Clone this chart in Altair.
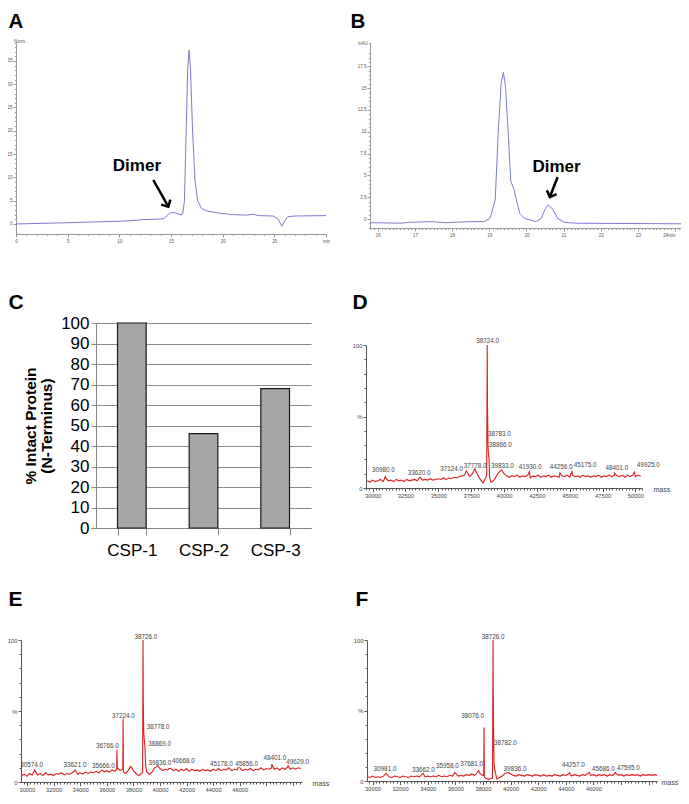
import altair as alt
import pandas as pd

FONT = "Liberation Sans"
BLUE = "#7a7ad2"
RED = "#de1f1f"
W, H = 673, 784

# ---------------- Panel A: chromatogram ----------------
A_TIME = [0, 5.07, 10.07, 11.84, 12.0, 14.26, 14.49, 14.75, 15.07, 15.39, 15.88, 16.13,
          16.3, 16.46, 16.62, 16.75, 16.88, 17.1, 17.33, 17.59, 17.97, 18.46, 19.75,
          21.04, 22.33, 22.97, 23.46, 24.91, 25.4, 25.72, 25.94, 26.27, 26.85, 30.0]
A_SIGNAL = [0.0, 0.28, 0.6, 0.8, 0.9, 1.1, 1.5, 2.1, 2.5, 2.4, 2.0, 2.1,
            4.9, 19.2, 33.5, 37.3, 33.5, 19.2, 9.2, 4.9, 3.3, 2.8, 2.3,
            2.0, 1.9, 2.1, 1.8, 1.7, 1.0, -0.5, 0.4, 1.5, 1.7, 1.8]
A_NOTE = ["Dimer"]
A_NOTE_T = [11.7]
A_NOTE_V = [11.4]
A_ARROW = [13.29, 9.44, 14.74, 3.71]

# ---------------- Panel B: chromatogram ----------------
B_TIME = [15.81, 16.63, 16.8, 17.43, 17.8, 18.49, 18.85, 19.02, 19.16, 19.24, 19.32,
          19.38, 19.44, 19.51, 19.58, 19.66, 19.73, 19.82, 19.95, 20.26, 20.4, 20.49,
          20.59, 20.71, 20.84, 21.02, 21.33, 24.16]
B_SIGNAL = [-0.42, -0.48, -0.38, -0.3, -0.42, -0.3, -0.3, 0.07, 2.18, 9.8, 15.6,
            16.8, 15.1, 9.8, 4.28, 3.5, 2.18, 0.65, 0.07, -0.3, 0.07, 1.03,
            1.64, 1.11, 0.07, -0.38, -0.48, -0.55]
B_NOTE = ["Dimer"]
B_NOTE_T = [20.81]
B_NOTE_V = [5.39]
B_ARROW = [20.84, 4.82, 20.63, 2.52]

# ---------------- Panel C: bar chart ----------------
C_CATS = ["CSP-1", "CSP-2", "CSP-3"]
C_VALS = [100, 46, 68]

# ---------------- Panels D, E, F: mass spectra ----------------
BASE_MASS = [29600, 29800, 30000, 30200, 30400, 30600, 30800, 31000, 31200, 31400,
             31600, 31800, 32000, 32200, 32400, 32600, 32800, 33000, 33200, 33400,
             33600, 33800, 34000, 34200, 34400, 34600, 34800, 35000, 35200, 35400,
             35600, 35800, 36000, 36200, 36400, 36600, 36800, 37000, 37200, 37400,
             37600, 37800, 38000, 38200, 38400, 38600, 38800, 39000, 39200, 39400,
             39600, 39800, 40000, 40200, 40400, 40600, 40800, 41000, 41200, 41400,
             41600, 41800, 42000, 42200, 42400, 42600, 42800, 43000, 43200, 43400,
             43600, 43800, 44000, 44200, 44400, 44600, 44800, 45000, 45200, 45400,
             45600, 45800, 46000, 46200, 46400, 46600, 46800, 47000, 47200, 47400,
             47600, 47800, 48000, 48200, 48400, 48600, 48800, 49000, 49200, 49400,
             49600, 49800, 50000, 50200, 50400, 50600, 50800, 51000, 51200, 51400]

D_BASE = [5, 4, 5.5, 4.5, 5, 6, 4.5, 7, 5, 5.5,
          4.5, 6, 5, 5.5, 4.5, 6, 5, 5.5, 6, 5,
          7.5, 5.5, 6, 5.5, 6.5, 5.5, 6, 6.5, 6, 7,
          6, 7, 6.5, 7.5, 7, 8, 8.5, 9, 11, 8,
          10, 13, 9, 6, 3.5, 7, 26, 4, 5, 8,
          11, 12.5, 10, 8.5, 7.5, 8.5, 8, 9, 7.5, 8.5,
          8, 9, 7, 8.5, 8, 9, 7.5, 8.5, 8, 9,
          7.5, 8.5, 8, 7.5, 8.5, 8, 9, 7.5, 9, 8,
          8.5, 7.5, 9, 8, 8.5, 7.5, 8.5, 8, 9, 7.5,
          8.5, 8, 9, 8, 9, 8.5, 8, 9, 7.5, 9,
          8, 9, 8, 9, 8, 8.5, 8, 8.5, 8, 8.5]
D_PEAK_M = [30980, 33620, 37124, 37778, 38680, 38724, 38745, 38783, 38866, 38900,
            39833, 41930, 44256, 45175, 48401, 49925]
D_PEAK_I = [8, 7.5, 12, 13.5, 9, 100, 58, 30, 20, 8,
            12.5, 11.5, 10.5, 12, 10.5, 11]
D_LAB = ["38724.0", "30980.0", "33620.0", "37124.0", "37778.0", "39833.0",
         "41930.0", "44256.0", "45175.0", "48401.0", "49925.0"]
D_LAB_M = [38762, 30817, 33533, 36022, 37795, 39873, 41981, 44340, 46167, 48579, 50984]
D_LAB_I = [103, 12.6, 10.5, 13, 15.4, 15.4, 14.5, 14.5, 16, 13.8, 15.9]
D_SIDE = ["38783.0", "38866.0"]
D_SIDE_M = [38785, 38861]
D_SIDE_I = [37.6, 30]

E_BASE = [4.5, 5.5, 4, 6, 5, 8, 5, 6, 4.5, 6.5,
          5, 5.5, 4.5, 6, 5.5, 6.5, 5, 6, 5.5, 6.5,
          8, 5.5, 6.5, 5.5, 7, 6, 7, 6.5, 7.5, 6.5,
          8, 7, 8, 7, 8.5, 7.5, 10, 8, 9, 6,
          8, 11, 8, 6, 4.5, 6, 32, 7, 5.5, 7,
          10, 11, 9.5, 8, 9, 8.5, 9.5, 8, 9, 7.5,
          9, 8, 9.5, 7.5, 9, 8, 8.5, 7.5, 9, 8,
          8.5, 7.5, 9, 8, 9.5, 8, 9, 8.5, 9.5, 8,
          9, 8.5, 10, 8, 9, 8.5, 9.5, 8, 9, 8.5,
          10, 8.5, 9.5, 9, 10, 9, 10, 8.5, 10, 9,
          10.5, 9, 10, 9, 10, 9.5, 10, 9.5, 10, 9.5]
E_PEAK_M = [30574, 33621, 35666, 36740, 36766, 36790, 37224, 37250, 38690, 38726,
            38745, 38778, 38869, 38920, 39836, 40668, 45178, 45856, 48401, 49629]
E_PEAK_I = [8.5, 8.5, 8.5, 9, 22.7, 9, 44.7, 7, 7, 100,
            55.5, 35.5, 24.6, 12, 11.5, 9.5, 10, 10, 12.5, 11.5]
E_LAB = ["38726.0", "37224.0", "36766.0", "30574.0", "33621.0", "35666.0",
         "39836.0", "40668.0", "45178.0", "45856.0", "48401.0", "49629.0"]
E_LAB_M = [38948, 37242, 36039, 30355, 33610, 35738, 40001, 41753, 44620, 46520, 48647, 50355]
E_LAB_I = [102.2, 46.7, 25.5, 11.8, 11.8, 11.1, 13.3, 14.9, 12.9, 12.9, 16.7, 14]
E_SIDE = ["38778.0", "38869.0"]
E_SIDE_M = [39001, 39121]
E_SIDE_I = [38.9, 26.7]

F_BASE = [3, 2.5, 3.5, 2.5, 3, 2.5, 3.5, 5, 3, 2.5,
          3.5, 3, 2.5, 3.5, 3, 2.5, 3.5, 3, 3.5, 3,
          5, 3, 3.5, 3, 3.5, 3, 4, 3, 3.5, 3,
          4, 3.5, 5.5, 3.5, 4, 3.5, 4.5, 4, 5, 4,
          6, 5, 4, 2, 1.2, 2, 12, 1.5, 2.5, 3.5,
          5.5, 6, 5, 4, 3.5, 4.5, 4, 3.5, 4.5, 4,
          3.5, 4.5, 4, 3.5, 4.5, 3.5, 4, 3.5, 4.5, 4,
          3.5, 4.5, 4, 5, 3.5, 4.5, 4, 3.5, 4.5, 4,
          5.5, 4, 4.5, 3.5, 4.5, 4, 4.5, 3.5, 4.5, 4,
          5.5, 4, 4.5, 3.5, 4.5, 4, 4.5, 4, 4.5, 3.5,
          4.5, 4, 4.5, 4, 4.5, 4, 4.5, 4, 4.5, 4]
F_PEAK_M = [30981, 33662, 35958, 37681, 38050, 38076, 38100, 38690, 38726, 38745,
            38782, 38850, 39836, 44257, 45686, 47595]
F_PEAK_I = [5.5, 5.5, 6, 7.5, 4, 38, 3, 2, 100, 60,
            22, 8, 6, 6, 6, 6]
F_LAB = ["38726.0", "38076.0", "30981.0", "33662.0", "35958.0", "37681.0",
         "39836.0", "44257.0", "45686.0", "47595.0"]
F_LAB_M = [38726, 37254, 30903, 33677, 35415, 37181, 40317, 44538, 46711, 48521]
F_LAB_I = [102.2, 46, 8.8, 8.1, 10.6, 12.2, 8.8, 11, 8.8, 9.5]
F_SIDE = ["38782.0"]
F_SIDE_M = [38798]
F_SIDE_I = [26.8]


def letter_axis_props(letter, lx, ly, size=21):
    return dict(title=letter, titleAngle=0, titleX=lx, titleY=ly, titleAlign="left",
                titleBaseline="alphabetic", titleFontSize=size, titleFontWeight="bold",
                titleColor="black", titleFont=FONT)


def chromatogram(times, signal, xdom, ydom, xrange, yrange, xaxis_y, yaxis_x,
                 xvals, xlabel_expr, xmajor_test, xlabel_align,
                 yvals, ylabel_expr, ymajor_test, ylabel_align, ylabel_base,
                 note, note_t, note_v, arrow, arrow_angle, letter, lx, ly):
    df = pd.DataFrame({"t": times, "v": signal})
    xs = alt.Scale(domain=xdom, range=xrange, nice=False, zero=False)
    ys = alt.Scale(domain=ydom, range=yrange, nice=False, zero=False)
    xax = alt.Axis(
        orient="bottom", offset=xaxis_y - H, title=None, values=xvals, labelExpr=xlabel_expr,
        tickSize={"condition": {"test": xmajor_test, "value": 3}, "value": 1.5},
        labelAlign=xlabel_align,
        labelFontSize=4.5, labelColor="#555", domainColor="#999", tickColor="#999",
        labelPadding=1, labelOverlap=False, grid=False, labelFlush=False, labelFont=FONT)
    yax = alt.Axis(
        orient="left", offset=-yaxis_x, values=yvals, labelExpr=ylabel_expr,
        tickSize={"condition": {"test": ymajor_test, "value": 3}, "value": 1.5},
        labelAlign=ylabel_align, labelBaseline=ylabel_base,
        labelFontSize=4.5, labelColor="#555", domainColor="#999", tickColor="#999",
        labelPadding=1, labelOverlap=False, grid=False, labelFlush=False, labelFont=FONT,
        **letter_axis_props(letter, lx - yaxis_x, ly, 20.5))
    line = alt.Chart(df).mark_line(color=BLUE, strokeWidth=1).encode(
        x=alt.X("t:Q", scale=xs, axis=xax), y=alt.Y("v:Q", scale=ys, axis=yax))
    ndf = pd.DataFrame({"t": note_t, "v": note_v, "txt": note})
    text = alt.Chart(ndf).mark_text(fontSize=17, fontWeight="bold", font=FONT,
                                    color="black", baseline="alphabetic").encode(
        x=alt.X("t:Q", scale=xs, axis=xax), y=alt.Y("v:Q", scale=ys, axis=yax), text="txt:N")
    adf = pd.DataFrame({"t": [arrow[0]], "v": [arrow[1]], "t2": [arrow[2]], "v2": [arrow[3]]})
    shaft = alt.Chart(adf).mark_rule(color="black", strokeWidth=2.5).encode(
        x=alt.X("t:Q", scale=xs, axis=xax), y=alt.Y("v:Q", scale=ys, axis=yax),
        x2="t2:Q", y2="v2:Q")
    head = alt.Chart(adf).mark_point(shape="M -1 1 L 0 0 L 1 1", size=110, filled=False,
                                     strokeWidth=2.5, color="black", opacity=1,
                                     angle=arrow_angle).encode(
        x=alt.X("t2:Q", scale=xs, axis=xax), y=alt.Y("v2:Q", scale=ys, axis=yax))
    return alt.layer(line, shaft, head, text)


def spectrum(base, pk_m, pk_i, lab, lab_m, lab_i, side, side_m, side_i,
             domain, xrange, yrange, xaxis_y, yaxis_x, major, last_label, mass_x,
             letter, lx, ly):
    df = pd.DataFrame({"m": BASE_MASS + pk_m, "i": base + pk_i}).sort_values("m")
    df = df[(df["m"] >= domain[0]) & (df["m"] <= domain[1])]
    xvals = [v for v in range(29500, 51501, 250) if domain[0] <= v <= domain[1]]
    xs = alt.Scale(domain=domain, range=xrange, nice=False, zero=False)
    ys = alt.Scale(domain=[0, 100], range=yrange, nice=False)
    xax = alt.Axis(
        orient="bottom", offset=xaxis_y - H,
        title="mass", titleX=mass_x, titleY=1, titleAlign="left",
        titleBaseline="middle", titleFontSize=7, titleFontWeight="normal",
        titleColor="#444", titleFont=FONT,
        values=xvals,
        labelExpr=f"(datum.value % {major} === 0 && datum.value <= {last_label}) ? '' + datum.value : ''",
        tickSize={"condition": {"test": f"datum.value % {major} === 0", "value": 3.5}, "value": 2},
        labelFontSize=5.8, labelColor="#444", domainColor="#555", tickColor="#555",
        labelPadding=0.5, labelOverlap=False, grid=False, labelFlush=False, labelFont=FONT)
    yax = alt.Axis(
        orient="left", offset=-yaxis_x, values=list(range(0, 101, 10)),
        labelExpr="datum.value === 100 ? '100' : (datum.value === 50 ? '%' : (datum.value === 0 ? '0' : ''))",
        tickSize={"condition": {"test": "datum.value % 50 === 0", "value": 3}, "value": 2},
        labelFontSize=5.8, labelColor="#444", domainColor="#555", tickColor="#555",
        labelPadding=1, labelOverlap=False, grid=False, labelFlush=False, labelFont=FONT,
        **letter_axis_props(letter, lx - yaxis_x, ly))
    line = alt.Chart(df).mark_line(color=RED, strokeWidth=1.1).encode(
        x=alt.X("m:Q", scale=xs, axis=xax), y=alt.Y("i:Q", scale=ys, axis=yax))
    ldf = pd.DataFrame({"m": lab_m, "i": lab_i, "txt": lab})
    top = alt.Chart(ldf).mark_text(fontSize=6.3, color="#444", font=FONT,
                                   align="center", baseline="middle").encode(
        x=alt.X("m:Q", scale=xs, axis=xax), y=alt.Y("i:Q", scale=ys, axis=yax), text="txt:N")
    sdf = pd.DataFrame({"m": side_m, "i": side_i, "txt": side})
    sidel = alt.Chart(sdf).mark_text(fontSize=6.3, color="#444", font=FONT,
                                     align="left", baseline="middle").encode(
        x=alt.X("m:Q", scale=xs, axis=xax), y=alt.Y("i:Q", scale=ys, axis=yax), text="txt:N")
    return alt.layer(line, top, sidel)


# Panel A
chartA = chromatogram(
    A_TIME, A_SIGNAL, [0, 30], [-2.15, 38.84], [8, 318], [226, 35], 226, 8,
    list(range(0, 31)),
    "datum.value === 30 ? 'min' : (datum.value % 5 === 0 ? '' + datum.value : '')",
    "datum.value % 5 === 0", "center",
    list(range(0, 39)) + [38.84],
    "datum.value > 38 ? 'Norm.' : (datum.value % 5 === 0 ? '' + datum.value : '')",
    "datum.value % 5 === 0",
    {"condition": {"test": "datum.value > 38", "value": "left"}, "value": "right"},
    {"condition": {"test": "datum.value > 38", "value": "bottom"}, "value": "middle"},
    A_NOTE, A_NOTE_T, A_NOTE_V, A_ARROW, 151, "A", 0, 19)

# Panel B
b_xvals = [round(15.8 + 0.1 * k, 1) for k in range(0, 84)]
b_yvals = [round(-1 + 0.5 * k, 1) for k in range(0, 41)] + [20.18]
chartB = chromatogram(
    B_TIME, B_SIGNAL, [15.79, 24.16], [-1.03, 20.18], [362, 673], [220, 35], 220, 362,
    b_xvals,
    "abs(datum.value - round(datum.value)) < 0.01 ? (round(datum.value) === 24 ? '24min' : '' + round(datum.value)) : ''",
    "abs(datum.value - round(datum.value)) < 0.01",
    {"condition": {"test": "datum.value > 23.9", "value": "right"}, "value": "center"},
    b_yvals,
    "datum.value > 20 ? 'mAU' : ((abs(datum.value / 2.5 - round(datum.value / 2.5)) < 0.01 && datum.value >= 0 && datum.value <= 17.5) ? '' + datum.value : '')",
    "abs(datum.value / 2.5 - round(datum.value / 2.5)) < 0.01",
    "right", "middle",
    B_NOTE, B_NOTE_T, B_NOTE_V, B_ARROW, 201.8, "B", 342, 19)

# Panel C
c_df = pd.DataFrame({"sample": C_CATS, "pct": C_VALS})
chartC = alt.Chart(c_df).mark_bar(color="#a6a6a6", stroke="#1a1a1a", strokeWidth=1.2).encode(
    x=alt.X("sample:N", sort=C_CATS,
            scale=alt.Scale(range=[88, 303], paddingInner=0.6, paddingOuter=0.3),
            axis=alt.Axis(orient="bottom", offset=520 - H, labelAngle=0, labelFontSize=17,
                          labelColor="black", labelFont=FONT, labelPadding=7,
                          tickBand="extent", tickSize=7, tickColor="#868686",
                          domainColor="#868686",
                          **letter_axis_props("C", 0, 300 - 520))),
    y=alt.Y("pct:Q", scale=alt.Scale(domain=[0, 100], range=[520, 315], nice=False),
            axis=alt.Axis(orient="left", offset=-88, values=list(range(0, 101, 10)),
                          labelFontSize=17, labelColor="black", labelFont=FONT, grid=True,
                          gridColor="#8c8c8c", tickSize=5, tickColor="#8c8c8c",
                          domainColor="#868686", labelPadding=2,
                          title=["% Intact Protein", "(N-Terminus)"],
                          titleFontSize=15.5, titleFontWeight="bold", titleFont=FONT,
                          titleColor="black", titleLineHeight=16, titlePadding=6)),
)

# Panels D, E, F
chartD = spectrum(D_BASE, D_PEAK_M, D_PEAK_I, D_LAB, D_LAB_M, D_LAB_I,
                  D_SIDE, D_SIDE_M, D_SIDE_I, [29500, 50500], [358, 634], [480, 337],
                  480, 358, 2500, 50000, 645, "D", 344, 300)
chartE = spectrum(E_BASE, E_PEAK_M, E_PEAK_I, E_LAB, E_LAB_M, E_LAB_I,
                  E_SIDE, E_SIDE_M, E_SIDE_I, [29550, 50680], [13, 294], [774, 632],
                  774, 13, 2000, 46000, 304, "E", 0, 597)
chartF = spectrum(F_BASE, F_PEAK_M, F_PEAK_I, F_LAB, F_LAB_M, F_LAB_I,
                  F_SIDE, F_SIDE_M, F_SIDE_I, [29600, 50600], [359, 649], [773, 632],
                  773, 359, 2000, 46000, 653, "F", 347, 597)

chart = alt.layer(chartA, chartB, chartC, chartD, chartE, chartF).resolve_scale(
    x="independent", y="independent"
).resolve_axis(
    x="independent", y="independent"
).properties(
    width=W, height=H, padding=0, autosize=alt.AutoSizeParams(type="none")
).configure(font=FONT).configure_view(stroke=None)

chart.save("out.html", embed_options={"renderer": "svg", "actions": False})
